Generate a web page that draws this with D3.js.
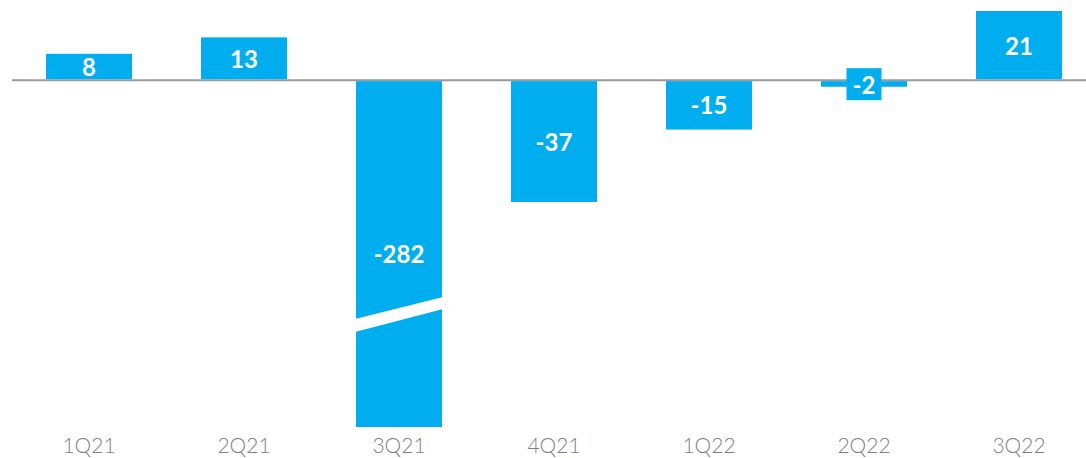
<!DOCTYPE html>
<html><head><meta charset="utf-8">
<script src="https://cdn.jsdelivr.net/npm/d3@7"></script>
<style>html,body{margin:0;padding:0;background:#fff;}svg{display:block;}</style>
</head><body><svg id="c" width="1086" height="458"></svg>
<script>
const categories = ["1Q21","2Q21","3Q21","4Q21","1Q22","2Q22","3Q22"];
const values = [8, 13, -282, -37, -15, -2, 21];
const labels = ["8","13","-282","-37","-15","-2","21"];

const W = 1086, H = 458;
const svg = d3.select("#c");
const barColor = "#00aeef";
const x = d3.scaleBand().domain(categories).range([0, 1108]).paddingInner(0.4452).paddingOuter(0.2968);
const y = d3.scaleLinear().domain([-37, 21]).range([202, 11]);
const yBottom = 427;
const y0 = y(0);

svg.append("line").attr("x1", 12).attr("x2", W).attr("y1", y0).attr("y2", y0)
  .attr("stroke", "#9a9a9a").attr("stroke-width", 2);

const g = svg.append("g");
values.forEach((v, i) => {
  const c = categories[i];
  const bx = x(c), bw = x.bandwidth();
  const broken = y(v) > yBottom;
  const yv = broken ? yBottom : y(v);
  const top = v < 0 ? y0 + 1 : yv;
  const bottom = v < 0 ? yv : y0 - 1;
  const h = Math.abs(yv - y0);
  g.append("rect").attr("x", bx).attr("y", top).attr("width", bw).attr("height", bottom - top).attr("fill", barColor);
  if (broken) {
    g.append("polygon")
      .attr("points", [[bx-1, 319],[bx+bw+1, 297],[bx+bw+1, 309],[bx-1, 332]].map(p=>p.join(",")).join(" "))
      .attr("fill", "#fff");
  }
  const small = h < 20;
  if (small) {
    g.append("rect").attr("x", bx + bw/2 - 17.5).attr("y", y0 - 12).attr("width", 35).attr("height", 32).attr("fill", barColor);
  }
  const ly = broken ? (y0 + yBottom) / 2 : (small ? y0 + 4 : (y0 + yv) / 2);
  g.append("text").attr("x", bx + bw/2).attr("y", ly)
    .attr("text-anchor", "middle").attr("dominant-baseline", "central")
    .attr("fill", "#fff").attr("font-family", "Lato, sans-serif").attr("font-weight", "bold")
    .attr("font-size", 24).text(labels[i]);
});

const xAxis = svg.append("g").attr("transform", `translate(0,${yBottom})`)
  .call(d3.axisBottom(x).tickSize(0).tickPadding(11));
xAxis.select(".domain").remove();
xAxis.selectAll("text").attr("font-family", "Lato, sans-serif").attr("font-weight", 300)
  .attr("font-size", 21).attr("fill", "#7f7f7f").attr("dy", "0.71em");
</script></body></html>
